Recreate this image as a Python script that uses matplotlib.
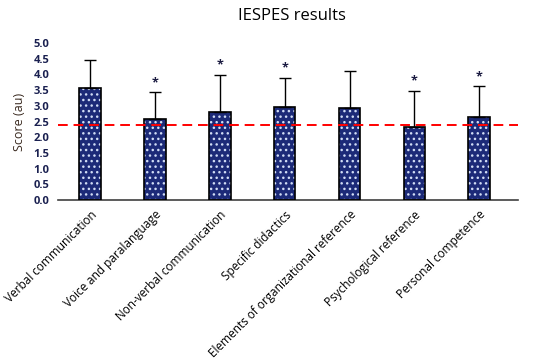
import matplotlib.pyplot as plt
import numpy as np

plt.rcParams['font.family'] = ['Open Sans', 'DejaVu Sans']

# data
categories = ['Verbal communication', 'Voice and paralanguage',
              'Non-verbal communication', 'Specific didactics',
              'Elements of organizational reference',
              'Psychological reference', 'Personal competence']
means = [3.58, 2.57, 2.80, 2.96, 2.92, 2.34, 2.64]
sds = [0.87, 0.87, 1.19, 0.94, 1.18, 1.14, 0.99]
significant = [False, True, True, True, False, True, True]
reference = 2.40

fig = plt.figure(figsize=(5.5, 3.62), dpi=100)
ax = fig.add_axes([0.105, 0.4475, 0.837, 0.4335])

x = np.arange(len(categories))
navy = '#1c2a78'

# hatch layer (white dots) then black outline
ax.bar(x, means, width=0.33, color=navy, edgecolor='#d0dcf5', linewidth=0,
       hatch='...', zorder=2)
ax.bar(x, means, width=0.33, fill=False, edgecolor='black', linewidth=1.2,
       zorder=3)
ax.errorbar(x, means, yerr=[np.zeros(len(sds)), sds], fmt='none',
            ecolor='black', elinewidth=1, capsize=4, capthick=1, zorder=4)

for i in range(len(categories)):
    if significant[i]:
        ax.text(x[i], means[i] + sds[i] + 0.1, '*', ha='center', va='bottom',
                fontsize=9, color='#1a1a40', fontweight='bold')

ax.axhline(reference, color='red', linestyle=(0, (5, 3)), linewidth=1.4,
           zorder=5)

ax.set_xlim(-0.5, len(categories) - 0.4)
ax.set_ylim(0, 5)
ax.set_yticks(np.arange(0, 5.01, 0.5))
ax.set_yticklabels(['%.1f' % v for v in np.arange(0, 5.01, 0.5)],
                   fontsize=8, color='#1a2050', fontweight='bold')
ax.set_xticks(x)
ax.set_xticklabels(categories, rotation=45, ha='right',
                   rotation_mode='anchor', fontsize=8.5)
ax.tick_params(axis='both', length=0)
ax.tick_params(axis='x', pad=6)
ax.tick_params(axis='y', pad=6)

for s in ['top', 'right', 'left']:
    ax.spines[s].set_visible(False)
ax.spines['bottom'].set_color('#404040')
ax.spines['bottom'].set_linewidth(1.2)

ax.set_ylabel('Score (au)', fontsize=9, color='#3a2a20', labelpad=5)
fig.text(0.53, 0.955, 'IESPES results', ha='center', va='center',
         fontsize=12)

fig.savefig('out.png', dpi=100)
